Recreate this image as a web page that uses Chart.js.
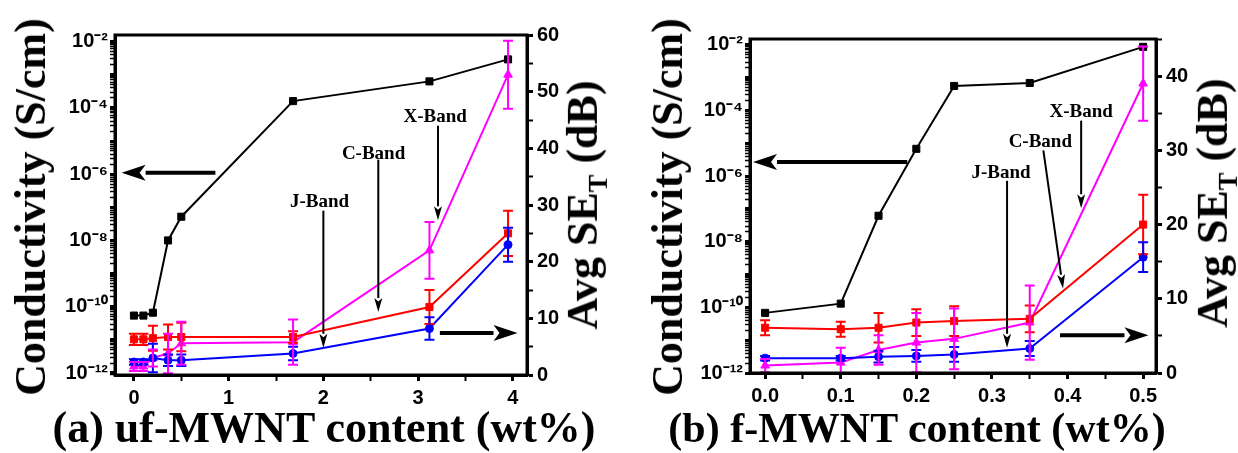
<!DOCTYPE html>
<html>
<head>
<meta charset="utf-8">
<script src="https://cdn.jsdelivr.net/npm/chart.js@4.4.0/dist/chart.umd.min.js"></script>
<style>
  body { margin: 0; background: #fff; }
  #wrap { position: relative; width: 1238px; height: 453px; overflow: hidden; }
  canvas { position: absolute; top: 0; }
  .titulo {
    position: absolute; white-space: nowrap; line-height: 1; color: #000;
    font-family: 'Liberation Serif', 'Times New Roman', serif; font-weight: bold; font-size: 44px;
    transform: translate(-50%, -50%);
  }
  .rot { transform: translate(-50%, -50%) rotate(-90deg); }
  .titulo sub { font-size: 0.6em; }
</style>
</head>
<body>
<div id="wrap">
  <canvas id="graficoA" width="620" height="453" style="left:0"></canvas>
  <canvas id="graficoB" width="618" height="453" style="left:620px"></canvas>
  <div class="titulo rot" style="left:31px;top:207px">Conductivity (S/cm)</div>
  <div class="titulo rot" style="left:586px;top:205px">Avg SE<sub>T</sub> (dB)</div>
  <div class="titulo" style="left:324px;top:428px">(a) uf-MWNT content (wt%)</div>
  <div class="titulo rot" style="left:668px;top:207px">Conductivity (S/cm)</div>
  <div class="titulo rot" style="left:1216px;top:203px">Avg SE<sub>T</sub> (dB)</div>
  <div class="titulo" style="left:917px;top:428px;font-size:42px">(b) f-MWNT content (wt%)</div>
</div>
<script>
// (a) uf-MWNT
const teorA = [0, 0.1, 0.2, 0.36, 0.5, 1.68, 3.12, 3.95];
const condA = [5.4e-11, 5.4e-11, 6.6e-11, 1e-8, 5.2e-8, 1.6e-4, 6.3e-4, 2.9e-3];
const cBandA = [6.3, 6.3, 6.5, 6.7, 6.7, 6.7, 12, 25];
const cErroA = [1, 1, 2.2, 2.2, 2.5, 1, 3, 4];
const jBandA = [2.3, 2.3, 3.0, 2.6, 2.6, 3.8, 8.2, 23];
const jErroA = [0.5, 0.5, 2.5, 1, 1, 1.2, 2, 3];
const xBandA = [1.5, 1.5, 3.0, 3.8, 5.6, 5.8, 22, 53];
const xErroA = [0.8, 0.8, 1.5, 3.5, 3.8, 4, 5, 6];

// (b) f-MWNT
const teorB = [0, 0.1, 0.15, 0.2, 0.25, 0.35, 0.5];
const condB = [6.8e-11, 1.3e-10, 6.2e-8, 6.8e-6, 5.6e-4, 6.9e-4, 8.7e-3];
const cBandB = [6.1, 5.9, 6.1, 6.8, 7.0, 7.3, 20];
const cErroB = [1.0, 1.0, 2.0, 1.8, 2.0, 1.8, 4];
const jBandB = [2.0, 2.0, 2.2, 2.3, 2.5, 3.3, 15.6];
const jErroB = [0.3, 0.3, 0.8, 0.8, 1.0, 1.0, 2];
const xBandB = [1.0, 1.4, 3.1, 4.1, 4.6, 6.8, 39];
const xErroB = [0.9, 2.0, 2.0, 4.0, 4.1, 5.0, 5];

// annotations, in data coordinates
const notasA = [
    { text: 'J-Band', x: 1.96, y: 30.5 },
    { text: 'C-Band', x: 2.53, y: 39 },
    { text: 'X-Band', x: 3.18, y: 45.5 },
];
const setasA = [
    { eixo: 'y', de: [0.86, 1.1e-6], para: [-0.13, 1.1e-6], grande: true },
    { eixo: 'y1', de: [3.23, 7.4], para: [4.05, 7.4], grande: true },
    { eixo: 'y1', de: [2.0, 29], para: [2.0, 4.8] },
    { eixo: 'y1', de: [2.58, 38], para: [2.58, 11.1] },
    { eixo: 'y1', de: [3.21, 44], para: [3.21, 27.3] },
];
const notasB = [
    { text: 'J-Band', x: 0.312, y: 26.9 },
    { text: 'C-Band', x: 0.364, y: 31.1 },
    { text: 'X-Band', x: 0.418, y: 35.1 },
];
const setasB = [
    { eixo: 'y', de: [0.188, 2.7e-6], para: [-0.016, 2.7e-6], grande: true },
    { eixo: 'y1', de: [0.39, 5.1], para: [0.507, 5.1], grande: true },
    { eixo: 'y1', de: [0.32, 25.9], para: [0.32, 3.4] },
    { eixo: 'y1', de: [0.368, 30], para: [0.394, 11.4] },
    { eixo: 'y1', de: [0.418, 34], para: [0.418, 22.2] },
];

const sup = { '-': '⁻', '0': '⁰', '1': '¹', '2': '²', '3': '³', '4': '⁴', '5': '⁵', '6': '⁶', '7': '⁷', '8': '⁸', '9': '⁹' };
const ehPotencia = v => Math.abs(Math.log10(v) - Math.round(Math.log10(v))) < 1e-6;
const fonteTick = { family: "'Liberation Sans', Arial, sans-serif", weight: 'bold', size: 20 };

const pontos = (xs, ys) => xs.map((x, i) => ({ x: x, y: ys[i] }));

const barrasErro = {
    id: 'barrasErro',
    afterDatasetsDraw(chart) {
        const ctx = chart.ctx;
        chart.data.datasets.forEach((ds, i) => {
            if (!ds.erros) return;
            const meta = chart.getDatasetMeta(i);
            const escala = chart.scales[ds.yAxisID];
            ctx.save();
            ctx.strokeStyle = ds.borderColor;
            ctx.lineWidth = 2;
            meta.data.forEach((p, j) => {
                const v = ds.data[j].y, e = ds.erros[j];
                const cima = escala.getPixelForValue(v + e);
                const baixo = escala.getPixelForValue(Math.max(v - e, 0));
                ctx.beginPath();
                ctx.moveTo(p.x, cima); ctx.lineTo(p.x, baixo);
                ctx.moveTo(p.x - 5, cima); ctx.lineTo(p.x + 5, cima);
                ctx.moveTo(p.x - 5, baixo); ctx.lineTo(p.x + 5, baixo);
                ctx.stroke();
            });
            ctx.restore();
        });
    }
};

function seta(ctx, x1, y1, x2, y2, grande) {
    const comp = grande ? 24 : 14, meia = grande ? 8 : 4;
    const ang = Math.atan2(y2 - y1, x2 - x1);
    const bx = x2 - comp * Math.cos(ang), by = y2 - comp * Math.sin(ang);
    ctx.lineWidth = grande ? 4 : 2;
    ctx.beginPath(); ctx.moveTo(x1, y1); ctx.lineTo(bx, by); ctx.stroke();
    ctx.beginPath();
    ctx.moveTo(x2, y2);
    ctx.lineTo(bx + meia * Math.sin(ang), by - meia * Math.cos(ang));
    ctx.lineTo(x2 - comp * 0.75 * Math.cos(ang), y2 - comp * 0.75 * Math.sin(ang));
    ctx.lineTo(bx - meia * Math.sin(ang), by + meia * Math.cos(ang));
    ctx.closePath(); ctx.fill();
}

const anotacoes = {
    id: 'anotacoes',
    afterDraw(chart, args, opts) {
        const ctx = chart.ctx, x = chart.scales.x, area = chart.chartArea;
        ctx.save();
        ctx.strokeStyle = '#000';
        ctx.fillStyle = '#000';
        (opts.setas || []).forEach(s => {
            const y = chart.scales[s.eixo];
            seta(ctx, x.getPixelForValue(s.de[0]), y.getPixelForValue(s.de[1]),
                x.getPixelForValue(s.para[0]), y.getPixelForValue(s.para[1]), s.grande);
        });
        ctx.font = "bold 19px 'Liberation Serif', 'Times New Roman', serif";
        ctx.textAlign = 'center';
        ctx.textBaseline = 'middle';
        (opts.notas || []).forEach(n => {
            ctx.fillText(n.text, x.getPixelForValue(n.x), chart.scales.y1.getPixelForValue(n.y));
        });
        ctx.lineWidth = 3;
        ctx.strokeRect(area.left, area.top, area.right - area.left, area.bottom - area.top);
        ctx.restore();
    }
};

function painel(id, p) {
    const serie = (cor, ys, erros, estilo, raio) => ({
        data: pontos(p.teor, ys), erros: erros, yAxisID: 'y1',
        borderColor: cor, backgroundColor: cor, borderWidth: 2,
        pointStyle: estilo, pointRadius: raio, pointBorderWidth: 1
    });
    return new Chart(document.getElementById(id), {
        type: 'line',
        data: {
            datasets: [
                { data: pontos(p.teor, p.cond), yAxisID: 'y', borderColor: '#000', backgroundColor: '#000',
                  borderWidth: 2, pointStyle: 'rect', pointRadius: 5, pointBorderWidth: 1 },
                serie('#ff0000', p.cBand, p.cErro, 'rect', 5),
                serie('#0000ff', p.jBand, p.jErro, 'circle', 4),
                serie('#ff00ff', p.xBand, p.xErro, 'triangle', 5),
            ]
        },
        options: {
            responsive: false,
            animation: false,
            devicePixelRatio: 1,
            layout: { padding: { top: p.topo, left: 0, right: 0, bottom: 0 } },
            plugins: { legend: { display: false }, tooltip: { enabled: false },
                       anotacoes: { setas: p.setas, notas: p.notas } },
            scales: {
                x: {
                    type: 'linear', min: p.xMin, max: p.xMax,
                    afterFit: s => { s.height = p.baixo; },
                    grid: { drawOnChartArea: false, tickLength: 6, color: '#000',
                            tickWidth: c => p.xRotulo(c.tick.value) ? 3 : 2 },
                    border: { color: '#000', width: 3 },
                    ticks: { stepSize: p.xPasso, includeBounds: false, autoSkip: false, maxRotation: 0,
                             padding: 5, color: '#000', font: fonteTick,
                             callback: v => p.xRotulo(v) ? p.xFormato(v) : '' }
                },
                y: {
                    type: 'logarithmic', position: 'left', min: p.condMin, max: p.condMax,
                    afterFit: s => { s.width = p.esq; },
                    afterBuildTicks: s => {
                        const ticks = [];
                        for (let e = -13; e <= -1; e++) {
                            for (let m = 1; m <= 9; m++) {
                                const v = m * Math.pow(10, e);
                                if (v >= s.min * 0.999 && v <= s.max * 1.001) ticks.push({ value: v });
                            }
                        }
                        s.ticks = ticks;
                    },
                    grid: { drawOnChartArea: false, tickLength: 5, color: '#000',
                            tickWidth: c => ehPotencia(c.tick.value) ? 3 : 1.5 },
                    border: { color: '#000', width: 3 },
                    ticks: { autoSkip: false, padding: 2, color: '#000', font: fonteTick,
                             callback: v => {
                                 if (!ehPotencia(v)) return '';
                                 const e = Math.round(Math.log10(v));
                                 return e % 2 === 0 ? '10' + String(e).split('').map(c => sup[c]).join('') : '';
                             } }
                },
                y1: {
                    type: 'linear', position: 'right', min: 0, max: p.seMax,
                    afterFit: s => { s.width = p.dir; },
                    grid: { drawOnChartArea: false, tickLength: 6, color: '#000',
                            tickWidth: c => c.tick.value % 10 === 0 ? 3 : 2 },
                    border: { color: '#000', width: 3 },
                    ticks: { stepSize: 5, autoSkip: false, padding: 4, color: '#000', font: fonteTick,
                             callback: v => v % 10 === 0 ? String(v) : '' }
                }
            }
        },
        plugins: [barrasErro, anotacoes]
    });
}

const graficoA = painel('graficoA', {
    teor: teorA, cond: condA,
    cBand: cBandA, cErro: cErroA, jBand: jBandA, jErro: jErroA, xBand: xBandA, xErro: xErroA,
    xMin: -0.2, xMax: 4.15, xPasso: 0.5,
    xRotulo: v => Math.abs(v - Math.round(v)) < 1e-6, xFormato: v => String(Math.round(v)),
    condMin: 8.7e-13, condMax: 1.58e-2, seMax: 60,
    topo: 35, baixo: 78, esq: 115, dir: 93,
    notas: notasA, setas: setasA
});

const graficoB = painel('graficoB', {
    teor: teorB, cond: condB,
    cBand: cBandB, cErro: cErroB, jBand: jBandB, jErro: jErroB, xBand: xBandB, xErro: xErroB,
    xMin: -0.02, xMax: 0.517, xPasso: 0.05,
    xRotulo: v => Math.round(v * 100) % 10 === 0, xFormato: v => v.toFixed(1),
    condMin: 1e-12, condMax: 1.51e-2, seMax: 45,
    topo: 39, baixo: 80, esq: 130, dir: 82,
    notas: notasB, setas: setasB
});
</script>
</body>
</html>
